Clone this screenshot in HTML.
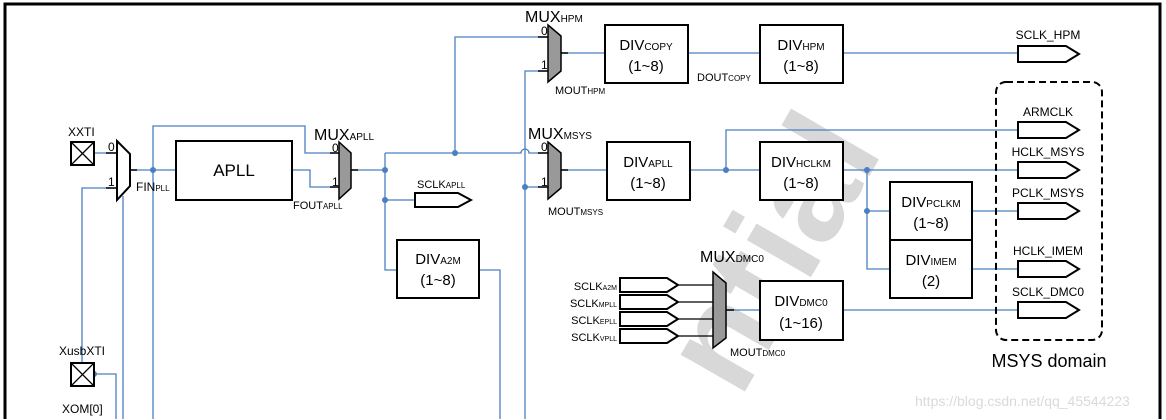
<!DOCTYPE html>
<html><head><meta charset="utf-8"><style>
html,body{margin:0;padding:0;background:#fff;width:1166px;height:420px;overflow:hidden;}
svg{display:block;overflow:hidden;font-family:"Liberation Sans",Arial,sans-serif;}
.b{stroke:#4a7fc1;stroke-width:1.3;fill:none}
.k{stroke:#000;stroke-width:2;fill:#fff}
text{fill:#000}
</style></head><body>
<svg width="1166" height="420" viewBox="0 0 1166 420" xmlns="http://www.w3.org/2000/svg">
<rect x="0" y="0" width="1166" height="420" fill="#fff"/>
<text x="0" y="0" transform="translate(740,400) rotate(-60)" font-size="140" font-weight="bold" style="fill:#d8d8d8">ntial</text>
<path d="M5,419 V4 H1160 V419" stroke="#000" stroke-width="3" fill="none"/>

<g class="b">
<path d="M94,153 H117"/>
<path d="M82,362 V188 H117"/>
<path d="M94,374 H116 V419"/>
<path d="M123,196 V419"/>
<path d="M130,170 H176"/>
<path d="M153,419 V126 H305 V153 H340"/>
<path d="M292,170 H310 V187 H340"/>
<path d="M351,170 H385"/>
<path d="M385,153 V270 H397"/>
<path d="M385,200 H415"/>
<path d="M385,153 H521 A4,4 0 0 1 529,153 H548"/>
<path d="M455,153 V37 H548"/>
<path d="M548,71 H525 V419"/>
<path d="M525,187 H548"/>
<path d="M479,270 H500 V419"/>
<path d="M561,53 H604"/>
<path d="M687,53 H760"/>
<path d="M843,53 H1018"/>
<path d="M561,170 H607"/>
<path d="M690,170 H760"/>
<path d="M726,170 V130 H1018"/>
<path d="M843,170 H1018"/>
<path d="M867,170 V269 H890"/>
<path d="M867,211 H890"/>
<path d="M972,211 H1018"/>
<path d="M972,269 H1018"/>
<path d="M726,310 H760"/>
<path d="M843,310 H1018"/>
</g>
<g fill="#4a7fc1">
<circle cx="153" cy="170" r="3"/><circle cx="385" cy="170" r="3"/><circle cx="385" cy="200" r="3"/>
<circle cx="455" cy="153" r="3"/><circle cx="525" cy="187" r="3"/><circle cx="726" cy="170" r="3"/>
<circle cx="867" cy="170" r="3"/><circle cx="867" cy="211" r="3"/><circle cx="94" cy="374" r="3"/>
</g>

<g stroke="#000" stroke-width="2" fill="#fff">
<rect x="71" y="142" width="23" height="23"/><path d="M71,142 L94,165 M94,142 L71,165" stroke-width="1.3"/>
<rect x="71" y="363" width="23" height="23"/><path d="M71,363 L94,386 M94,363 L71,386" stroke-width="1.3"/>
</g>
<text x="68" y="136" font-size="12">XXTI</text>
<text x="59" y="355" font-size="12">XusbXTI</text>
<text x="62" y="413" font-size="12">XOM[0]</text>

<path d="M117,141 L130,154 V186 L117,200 Z" stroke="#000" stroke-width="2" fill="#fff"/>
<path d="M106,153 H117 M106,188 H117 M130,170 H137" stroke="#000" stroke-width="1.5"/>
<text x="108" y="151" font-size="12">0</text><text x="108" y="186" font-size="12">1</text>
<text x="136" y="191" font-size="12">FIN<tspan font-size="8">PLL</tspan></text>

<rect x="176" y="141" width="116" height="59" class="k"/>
<text x="234" y="176" font-size="17" text-anchor="middle">APLL</text>
<text x="293" y="209" font-size="11">FOUT<tspan font-size="8">APLL</tspan></text>

<g stroke="#000" stroke-width="1.5" fill="#999">
<path d="M339,142 L351,153 V188 L339,199 Z"/>
<path d="M548,25 L561,36 V71 L548,82 Z"/>
<path d="M548,142 L561,153 V188 L548,199 Z"/>
<path d="M713,272 L726,283 V338 L713,348 Z"/>
</g>
<g stroke="#000" stroke-width="1.5">
<path d="M330,153 H339 M330,187 H339 M351,170 H358"/>
<path d="M538,37 H548 M538,71 H548 M561,53 H568"/>
<path d="M538,153 H548 M538,187 H548 M561,170 H568"/>
<path d="M726,310 H734"/>
</g>
<text x="314" y="140" font-size="16">MUX<tspan font-size="10">APLL</tspan></text>
<text x="332" y="152" font-size="12">0</text><text x="332" y="186" font-size="12">1</text>
<text x="525" y="22" font-size="16">MUX<tspan font-size="10">HPM</tspan></text>
<text x="541" y="35" font-size="12">0</text><text x="541" y="69" font-size="12">1</text>
<text x="555" y="94" font-size="11">MOUT<tspan font-size="8">HPM</tspan></text>
<text x="528" y="139" font-size="16">MUX<tspan font-size="10">MSYS</tspan></text>
<text x="541" y="151" font-size="12">0</text><text x="541" y="186" font-size="12">1</text>
<text x="548" y="215" font-size="11">MOUT<tspan font-size="8">MSYS</tspan></text>
<text x="700" y="262" font-size="16">MUX<tspan font-size="10">DMC0</tspan></text>
<text x="730" y="356" font-size="11">MOUT<tspan font-size="8">DMC0</tspan></text>

<g class="k">
<rect x="397" y="240" width="82" height="58"/>
<rect x="605" y="25" width="83" height="58"/>
<rect x="760" y="25" width="83" height="58"/>
<rect x="607" y="142" width="83" height="58"/>
<rect x="760" y="142" width="83" height="58"/>
<rect x="890" y="182" width="82" height="58"/>
<rect x="890" y="240" width="82" height="58"/>
<rect x="760" y="281" width="83" height="59"/>
</g>
<g font-size="15" text-anchor="middle">
<text x="438" y="264">DIV<tspan font-size="10">A2M</tspan></text><text x="438" y="285">(1~8)</text>
<text x="646" y="50">DIV<tspan font-size="10">COPY</tspan></text><text x="646" y="71">(1~8)</text>
<text x="801" y="50">DIV<tspan font-size="10">HPM</tspan></text><text x="801" y="71">(1~8)</text>
<text x="648" y="167">DIV<tspan font-size="10">APLL</tspan></text><text x="648" y="188">(1~8)</text>
<text x="801" y="167">DIV<tspan font-size="10">HCLKM</tspan></text><text x="801" y="188">(1~8)</text>
<text x="931" y="207">DIV<tspan font-size="10">PCLKM</tspan></text><text x="931" y="228">(1~8)</text>
<text x="931" y="265">DIV<tspan font-size="10">IMEM</tspan></text><text x="931" y="286">(2)</text>
<text x="801" y="306">DIV<tspan font-size="10">DMC0</tspan></text><text x="801" y="328">(1~16)</text>
</g>
<text x="697" y="81" font-size="11">DOUT<tspan font-size="8">COPY</tspan></text>

<g stroke="#000" stroke-width="2" fill="#fff">
<path d="M415,193 H458 L471,200 L458,207 H415 Z"/>
<path d="M1018,46 H1066 L1079,54 L1066,62 H1018 Z"/>
<path d="M1018,122 H1066 L1079,130 L1066,138 H1018 Z"/>
<path d="M1018,162 H1066 L1079,170 L1066,178 H1018 Z"/>
<path d="M1018,203 H1066 L1079,211 L1066,219 H1018 Z"/>
<path d="M1018,261 H1066 L1079,269 L1066,277 H1018 Z"/>
<path d="M1018,302 H1066 L1079,310 L1066,318 H1018 Z"/>
<path d="M620,278 H667 L678,285 L667,292 H620 Z"/>
<path d="M620,295 H667 L678,302 L667,309 H620 Z"/>
<path d="M620,312 H667 L678,319 L667,326 H620 Z"/>
<path d="M620,329 H667 L678,336 L667,343 H620 Z"/>
</g>
<path d="M678,285 H713 M678,302 H713 M678,319 H713 M678,336 H713" stroke="#000" stroke-width="1.3"/>
<text x="417" y="188" font-size="11">SCLK<tspan font-size="8">APLL</tspan></text>
<g font-size="12" text-anchor="middle">
<text x="1048" y="39">SCLK_HPM</text>
<text x="1048" y="116">ARMCLK</text>
<text x="1048" y="156">HCLK_MSYS</text>
<text x="1048" y="197">PCLK_MSYS</text>
<text x="1048" y="255">HCLK_IMEM</text>
<text x="1048" y="296">SCLK_DMC0</text>
</g>
<g font-size="11" text-anchor="end">
<text x="617" y="290">SCLK<tspan font-size="7">A2M</tspan></text>
<text x="617" y="307">SCLK<tspan font-size="7">MPLL</tspan></text>
<text x="617" y="324">SCLK<tspan font-size="7">EPLL</tspan></text>
<text x="617" y="341">SCLK<tspan font-size="7">VPLL</tspan></text>
</g>

<rect x="996" y="82" width="106" height="258" rx="10" fill="none" stroke="#000" stroke-width="2" stroke-dasharray="7,4"/>
<text x="1049" y="367" font-size="18" text-anchor="middle">MSYS domain</text>

<text x="915" y="406" font-size="14" style="fill:#dadada">https://blog.csdn.net/qq_45544223</text>
</svg>
</body></html>
